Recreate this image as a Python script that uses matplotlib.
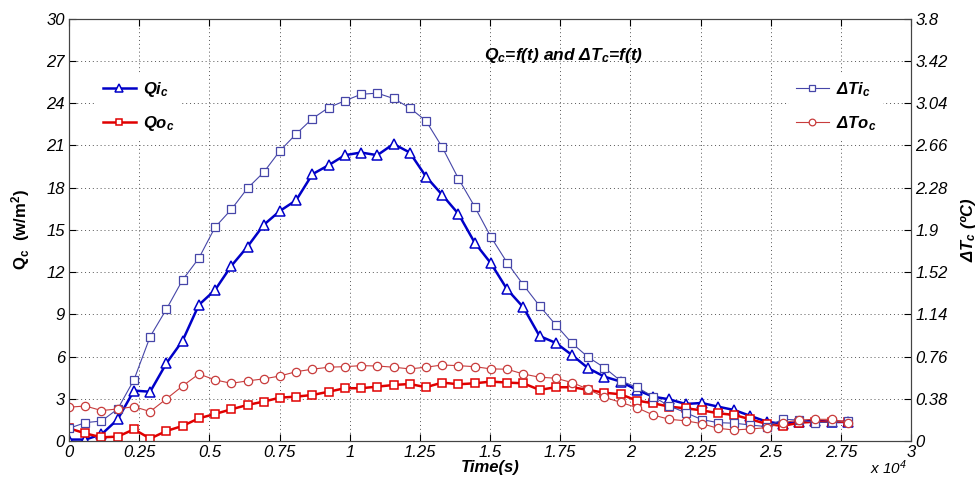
import matplotlib
matplotlib.use('Agg')
import matplotlib.pyplot as plt
import numpy as np

plt.rcParams['font.family'] = ['Liberation Sans', 'DejaVu Sans']
plt.rcParams['mathtext.default'] = 'regular'

# time in seconds
time_s = [0, 578, 1156, 1734, 2312, 2890, 3468, 4046, 4624, 5202,
          5780, 6358, 6936, 7514, 8092, 8670, 9248, 9826, 10404, 10982,
          11560, 12138, 12716, 13294, 13872, 14450, 15028, 15606, 16184, 16762,
          17340, 17918, 18496, 19074, 19652, 20230, 20808, 21386, 21964, 22542,
          23120, 23698, 24276, 24854, 25432, 26010, 26588, 27166, 27744]

# heat flux (w/m2), left axis
qi_c = [0.1, 0.1, 0.47, 1.54, 3.58, 3.5, 5.52, 7.13, 9.67, 10.73,
        12.44, 13.81, 15.36, 16.35, 17.11, 18.96, 19.6, 20.31, 20.5, 20.31,
        21.11, 20.5, 18.79, 17.49, 16.14, 14.1, 12.63, 10.78, 9.5, 7.46,
        6.97, 6.11, 5.17, 4.57, 4.22, 3.63, 3.15, 2.96, 2.63, 2.7,
        2.44, 2.2, 1.78, 1.37, 1.21, 1.35, 1.45, 1.35, 1.35]
qo_c = [0.9, 0.54, 0.26, 0.31, 0.83, 0.17, 0.71, 1.07, 1.61, 1.92,
        2.25, 2.56, 2.8, 3.08, 3.15, 3.27, 3.5, 3.75, 3.75, 3.86,
        3.98, 4.05, 3.82, 4.15, 4.03, 4.1, 4.22, 4.15, 4.1, 3.63,
        3.82, 3.82, 3.63, 3.43, 3.32, 2.87, 2.68, 2.44, 2.32, 2.18,
        1.97, 1.85, 1.54, 1.21, 1.07, 1.3, 1.37, 1.37, 1.37]

# temperature difference (C), right axis
dti_c = [0.114, 0.165, 0.18, 0.288, 0.55, 0.94, 1.186, 1.45, 1.645, 1.924,
         2.084, 2.275, 2.419, 2.612, 2.764, 2.902, 3.001, 3.062, 3.121, 3.131,
         3.083, 2.998, 2.882, 2.645, 2.362, 2.11, 1.837, 1.606, 1.405, 1.216,
         1.045, 0.88, 0.754, 0.66, 0.541, 0.484, 0.399, 0.315, 0.255, 0.193,
         0.165, 0.16, 0.144, 0.129, 0.195, 0.189, 0.165, 0.171, 0.177]
dto_c = [0.304, 0.315, 0.274, 0.288, 0.309, 0.265, 0.379, 0.495, 0.603, 0.55,
         0.519, 0.541, 0.559, 0.585, 0.624, 0.646, 0.664, 0.669, 0.678, 0.675,
         0.664, 0.649, 0.664, 0.684, 0.678, 0.669, 0.649, 0.646, 0.603, 0.574,
         0.565, 0.526, 0.466, 0.393, 0.348, 0.3, 0.234, 0.195, 0.182, 0.156,
         0.114, 0.099, 0.108, 0.12, 0.165, 0.189, 0.195, 0.195, 0.165]

x_ticks = [0, 0.25, 0.5, 0.75, 1, 1.25, 1.5, 1.75, 2, 2.25, 2.5, 2.75, 3]
x_ticklabels = ['0', '0.25', '0.5', '0.75', '1', '1.25', '1.5', '1.75', '2', '2.25', '2.5', '2.75', '3']
q_ticks = [0, 3, 6, 9, 12, 15, 18, 21, 24, 27, 30]
dt_ticks = [0, 0.38, 0.76, 1.14, 1.52, 1.9, 2.28, 2.66, 3.04, 3.42, 3.8]
dt_ticklabels = ['0', '0.38', '0.76', '1.14', '1.52', '1.9', '2.28', '2.66', '3.04', '3.42', '3.8']

t = np.array(time_s) / 1e4

fig = plt.figure(figsize=(9.78, 4.83), dpi=100)
ax = fig.add_axes([0.0706, 0.087, 0.861, 0.874])
ax2 = ax.twinx()

l1, = ax.plot(t, qi_c, '-^', color='#0000c8', lw=1.8, ms=6.5, mfc='white', mew=1.1, label='Qi$_c$')
l2, = ax.plot(t, qo_c, '-s', color='#e00000', lw=1.8, ms=6, mfc='white', mew=1.1, label='Qo$_c$')
l3, = ax2.plot(t, dti_c, '-s', color='#4646a8', lw=0.8, ms=6, mfc='white', mew=0.9, label='ΔTi$_c$')
l4, = ax2.plot(t, dto_c, '-o', color='#c83c3c', lw=0.8, ms=6, mfc='white', mew=0.9, label='ΔTo$_c$')

ax.set_xlim(0, 3)
ax.set_ylim(0, 30)
ax2.set_ylim(0, 3.8)
ax.set_xticks(x_ticks)
ax.set_xticklabels(x_ticklabels)
ax.set_yticks(q_ticks)
ax2.set_yticks(dt_ticks)
ax2.set_yticklabels(dt_ticklabels)

ax.grid(True, linestyle=(0, (1, 3)), color='#555555', lw=0.7)
ax.tick_params(direction='in', length=5, top=True, labelsize=12, pad=3)
ax2.tick_params(direction='in', length=5, labelsize=12, pad=3)
for a in (ax, ax2):
    for lab in a.get_xticklabels() + a.get_yticklabels():
        lab.set_style('italic')
    for sp in a.spines.values():
        sp.set_color('#444444')

ax.set_xlabel('Time(s)', fontsize=12, fontweight='bold', style='italic', labelpad=0)
ax.set_ylabel('Q$_c$  (w/m$^2$)', fontsize=12, fontweight='bold', labelpad=10)
ax2.set_ylabel('ΔT$_c$ (ºC)', fontsize=12, fontweight='bold', style='italic', labelpad=8)

ax.text(0.587, 0.912, 'Q$_c$=f(t) and ΔT$_c$=f(t)', transform=ax.transAxes, ha='center', va='center',
        fontsize=12.5, fontweight='bold', style='italic')
fig.text(0.89, 0.018, 'x 10$^4$', fontsize=11, style='italic')

leg1 = ax.legend(handles=[l1, l2], loc='upper left', bbox_to_anchor=(0.022, 0.89), frameon=True,
                 edgecolor='none', fancybox=False, handlelength=2.0, handletextpad=0.4,
                 labelspacing=0.9, markerscale=0.8,
                 prop={'weight': 'bold', 'style': 'italic', 'size': 12})
leg1.get_frame().set_alpha(1)
ax.add_artist(leg1)
leg2 = ax2.legend(handles=[l3, l4], loc='upper left', bbox_to_anchor=(0.845, 0.89), frameon=True,
                  edgecolor='none', fancybox=False, handlelength=2.0, handletextpad=0.4,
                  labelspacing=0.9, markerscale=0.8,
                  prop={'weight': 'bold', 'style': 'italic', 'size': 12})
leg2.get_frame().set_alpha(1)

fig.savefig('out.png', dpi=100)
